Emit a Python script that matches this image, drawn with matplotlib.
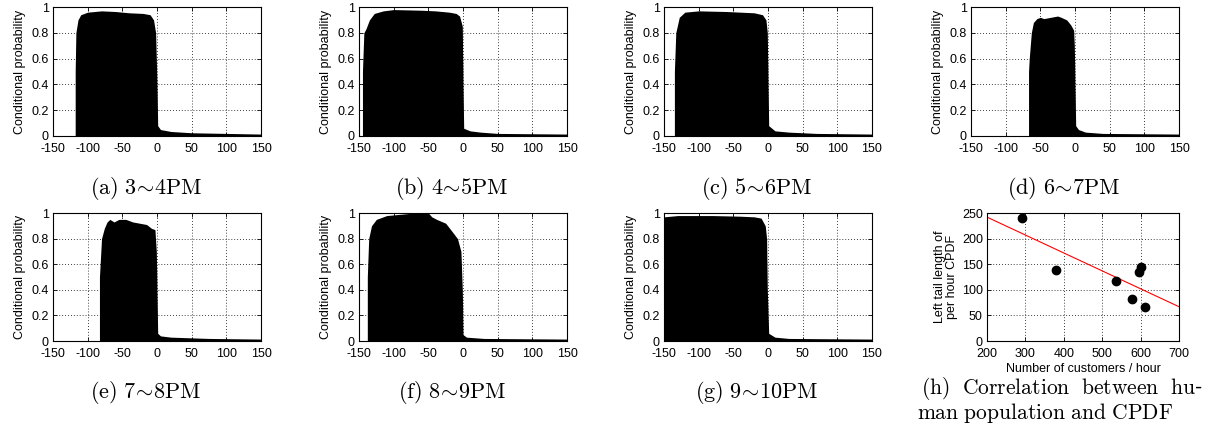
import numpy as np
import matplotlib
matplotlib.use('Agg')
from matplotlib import pyplot as plt

plt.rcParams['font.family'] = 'Liberation Sans'
plt.rcParams['mathtext.fontset'] = 'cm'

# CPDF outlines (time offset vs conditional probability)
x_a = [-118, -118, -117, -114, -110, -100, -80, -60, -40, -20, -10, -5, -2, 0, 1, 5, 20, 50, 100, 150]
y_a = [0, 0.5, 0.8, 0.9, 0.94, 0.96, 0.97, 0.965, 0.955, 0.95, 0.94, 0.9, 0.8, 0.4, 0.08, 0.05, 0.035, 0.025, 0.02, 0.015]

x_b = [-145, -145, -143, -140, -135, -128, -115, -100, -60, -40, -20, -10, -5, -1, 0, 1, 10, 25, 50, 150]
y_b = [0, 0.5, 0.8, 0.83, 0.9, 0.95, 0.97, 0.98, 0.975, 0.97, 0.96, 0.95, 0.93, 0.85, 0.4, 0.06, 0.04, 0.03, 0.02, 0.015]

x_c = [-135, -135, -133, -128, -120, -100, -60, -40, -20, -8, -3, -1, 1, 10, 30, 70, 150]
y_c = [0, 0.5, 0.8, 0.92, 0.96, 0.97, 0.965, 0.96, 0.955, 0.94, 0.9, 0.8, 0.08, 0.04, 0.03, 0.02, 0.015]

x_d = [-67, -67, -66, -63, -60, -55, -50, -45, -35, -25, -20, -12, -6, -2, -1, 1, 5, 15, 40, 150]
y_d = [0, 0.5, 0.6, 0.8, 0.88, 0.91, 0.92, 0.91, 0.92, 0.93, 0.92, 0.9, 0.86, 0.82, 0.7, 0.08, 0.05, 0.03, 0.02, 0.015]

x_e = [-83, -83, -80, -76, -72, -68, -62, -55, -45, -35, -25, -15, -8, -3, -1, 1, 5, 20, 75, 150]
y_e = [0, 0.5, 0.8, 0.88, 0.93, 0.95, 0.93, 0.95, 0.95, 0.93, 0.92, 0.91, 0.88, 0.87, 0.7, 0.06, 0.04, 0.03, 0.02, 0.015]

x_f = [-138, -138, -136, -132, -125, -110, -90, -70, -50, -45, -38, -25, -15, -8, -3, -1, 0, 5, 30, 150]
y_f = [0, 0.5, 0.8, 0.9, 0.95, 0.98, 0.99, 1.0, 1.0, 0.97, 0.95, 0.92, 0.85, 0.8, 0.7, 0.4, 0.05, 0.03, 0.02, 0.015]

x_g = [-150, -130, -80, -40, -20, -10, -4, -2, -1, 1, 10, 30, 150]
y_g = [0.97, 0.98, 0.98, 0.975, 0.97, 0.96, 0.9, 0.8, 0.4, 0.06, 0.03, 0.02, 0.015]

captions = [r'$\mathrm{(a)\ 3}\!\sim\!\mathrm{4PM}$', r'$\mathrm{(b)\ 4}\!\sim\!\mathrm{5PM}$',
            r'$\mathrm{(c)\ 5}\!\sim\!\mathrm{6PM}$', r'$\mathrm{(d)\ 6}\!\sim\!\mathrm{7PM}$',
            r'$\mathrm{(e)\ 7}\!\sim\!\mathrm{8PM}$', r'$\mathrm{(f)\ 8}\!\sim\!\mathrm{9PM}$',
            r'$\mathrm{(g)\ 9}\!\sim\!\mathrm{10PM}$']

xticks = [-150, -100, -50, 0, 50, 100, 150]
xticklabels = ['-150', '-100', '-50', '0', '50', '100', '150']
yticks = [0, 0.2, 0.4, 0.6, 0.8, 1]
yticklabels = ['0', '0.2', '0.4', '0.6', '0.8', '1']

# (h) customers per hour vs left tail length
customers = [290, 380, 537, 578, 597, 600, 612]
tail_len = [240, 138, 118, 83, 135, 145, 67]
fit_x = [200, 700]
fit_y = [242, 67]

W, H = 1221, 430
fig = plt.figure(figsize=(W / 100, H / 100), dpi=100)

def style(ax):
    ax.tick_params(direction='in', length=3, width=0.6, labelsize=9,
                   top=True, right=True)
    ax.tick_params(axis='x', pad=5)
    ax.tick_params(axis='y', pad=3)
    ax.grid(True, color='k', linestyle=(0, (1, 2.5)), linewidth=0.6)
    ax.set_axisbelow(True)
    for s in ax.spines.values():
        s.set_linewidth(0.8)

lefts = [53, 359, 664, 971]
rows = [(7, 136), (213, 341)]
cap_y = [188, 393]
panels = [(x_a, y_a), (x_b, y_b), (x_c, y_c), (x_d, y_d),
          (x_e, y_e), (x_f, y_f), (x_g, y_g)]

for i, (xs, ys) in enumerate(panels):
    r, c = divmod(i, 4)
    top, bot = rows[r]
    l = lefts[c]
    ax = fig.add_axes([l / W, (H - bot) / H, 208 / W, (bot - top) / H])
    ax.fill_between(xs, ys, 0, color='k', linewidth=0)
    ax.set_xlim(-150, 150)
    ax.set_ylim(0, 1)
    ax.set_xticks(xticks)
    ax.set_xticklabels(xticklabels)
    ax.set_yticks(yticks)
    ax.set_yticklabels(yticklabels)
    ax.set_ylabel('Conditional probability', fontsize=9, labelpad=4)
    style(ax)
    fig.text((l + 104 - 11) / W, 1 - cap_y[r] / H, captions[i],
             ha='center', va='center', fontsize=16)

# correlation panel
top, bot = rows[1]
ax = fig.add_axes([987 / W, (H - bot) / H, 192 / W, (bot - top) / H])
ax.plot(fit_x, fit_y, color='r', linewidth=0.8)
ax.plot(customers, tail_len, 'ko', markersize=6)
ax.set_xlim(200, 700)
ax.set_ylim(0, 250)
ax.set_xticks([200, 300, 400, 500, 600, 700])
ax.set_yticks([0, 50, 100, 150, 200, 250])
ax.set_xlabel('Number of customers / hour', fontsize=9, labelpad=2)
ax.set_ylabel('Left tail length of\nper hour CPDF', fontsize=9, labelpad=3,
              linespacing=1.0)
style(ax)
fig.text(921 / W, 1 - 389 / H, r'$\mathrm{(h)\ \ Correlation\ \ between\ \ hu}$-',
         ha='left', va='center', fontsize=15.5)
fig.text(917 / W, 1 - 413 / H, r'$\mathrm{man\ population\ and\ CPDF}$',
         ha='left', va='center', fontsize=15.5)

fig.savefig('out.png', dpi=100)
